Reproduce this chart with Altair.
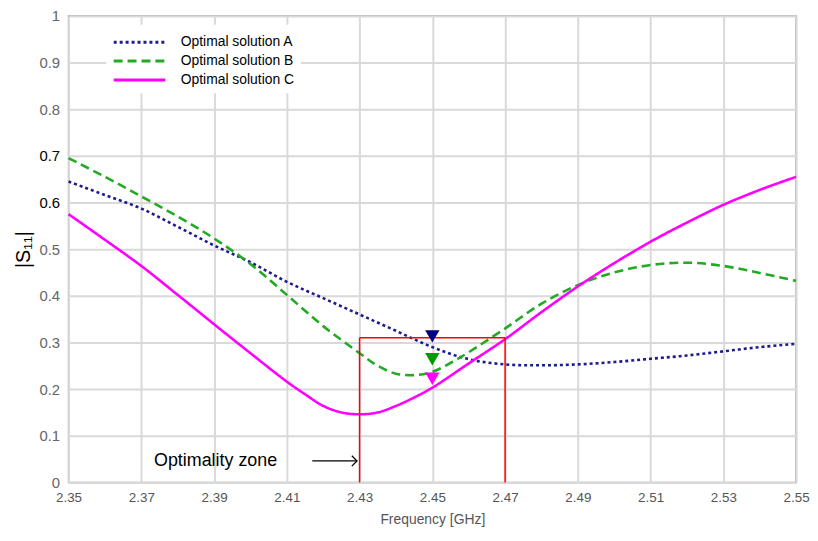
import altair as alt
import pandas as pd

# ---- data ----
freq_a = [2.35, 2.36, 2.37, 2.38, 2.39, 2.40, 2.41, 2.42, 2.43, 2.44, 2.45, 2.46, 2.47, 2.48, 2.49, 2.50, 2.51, 2.52, 2.53, 2.54, 2.55]
s11_a = [0.645, 0.616, 0.587, 0.548, 0.508, 0.472, 0.430, 0.395, 0.360, 0.325, 0.290, 0.264, 0.253, 0.251, 0.253, 0.258, 0.265, 0.272, 0.281, 0.290, 0.297]

freq_b = [2.35, 2.36, 2.37, 2.38, 2.39, 2.40, 2.41, 2.42, 2.43, 2.435, 2.44, 2.445, 2.45, 2.455, 2.46, 2.47, 2.48, 2.49, 2.50, 2.51, 2.52, 2.53, 2.54, 2.55]
s11_b = [0.695, 0.655, 0.613, 0.570, 0.523, 0.468, 0.402, 0.335, 0.277, 0.250, 0.233, 0.230, 0.237, 0.256, 0.279, 0.330, 0.383, 0.423, 0.450, 0.466, 0.471, 0.464, 0.449, 0.432]

freq_c = [2.35, 2.36, 2.37, 2.38, 2.39, 2.40, 2.41, 2.415, 2.42, 2.425, 2.43, 2.435, 2.44, 2.445, 2.45, 2.46, 2.47, 2.48, 2.49, 2.50, 2.51, 2.52, 2.53, 2.54, 2.55]
s11_c = [0.575, 0.520, 0.464, 0.402, 0.339, 0.277, 0.216, 0.189, 0.164, 0.150, 0.146, 0.150, 0.164, 0.182, 0.203, 0.255, 0.307, 0.365, 0.420, 0.470, 0.516, 0.557, 0.595, 0.627, 0.655]

series_names = ["Optimal solution A", "Optimal solution B", "Optimal solution C"]
series_colors = ["#1c1c8c", "#22aa22", "#ff00ff"]
marker_colors = ["#000080", "#009900", "#ff00ff"]
marker_freq = [2.45, 2.45, 2.45]
marker_s11 = [0.313, 0.264, 0.222]

zone_x = [2.43, 2.47]
zone_top = 0.31

x_ticks = [2.35, 2.37, 2.39, 2.41, 2.43, 2.45, 2.47, 2.49, 2.51, 2.53, 2.55]
y_ticks = [0, 0.1, 0.2, 0.3, 0.4, 0.5, 0.6, 0.7, 0.8, 0.9, 1.0]

annot_text = "Optimality zone"
annot_x = 2.3735
annot_y = 0.046
arrow_x = [2.417, 2.4293]

# ---- tables ----
rows = []
for name, fs, vs in zip(series_names, [freq_a, freq_b, freq_c], [s11_a, s11_b, s11_c]):
    for f, v in zip(fs, vs):
        rows.append({"series": name, "freq": f, "s11": v})
lines_df = pd.DataFrame(rows)
markers_df = pd.DataFrame({"series": series_names, "freq": marker_freq, "s11": marker_s11})
zone_df = pd.DataFrame({
    "x": [zone_x[0], zone_x[1], zone_x[0]],
    "x2": [zone_x[0], zone_x[1], zone_x[1]],
    "y": [0, 0, zone_top],
    "y2": [zone_top, zone_top, zone_top],
})
annot_df = pd.DataFrame({"x": [annot_x], "y": [annot_y], "t": [annot_text]})
arrow_df = pd.DataFrame({"x": [arrow_x[0]], "x2": [arrow_x[1]], "y": [annot_y]})
head_df = pd.DataFrame({"x": [arrow_x[1]], "y": [annot_y]})

FONT = "Liberation Sans"

xscale = alt.Scale(domain=[2.35, 2.55], nice=False, zero=False)
yscale = alt.Scale(domain=[0, 1], nice=False)

x_axis = alt.Axis(values=x_ticks, format=".2f", title="Frequency [GHz]",
                  labelFont=FONT, labelFontSize=13.5, labelColor="#555555",
                  titleFont=FONT, titleFontSize=14, titleColor="#555555", titleFontWeight="normal",
                  titlePadding=9, labelPadding=8, ticks=False, domain=False,
                  grid=True, gridColor="#d9d9d9", gridWidth=2, labelFlush=False)
y_axis = alt.Axis(values=y_ticks, title="|S₁₁|",
                  labelExpr="datum.value == 0 ? '0' : (datum.value == 1 ? '1' : format(datum.value, '.1f'))",
                  labelFont=FONT, labelFontSize=15,
                  labelColor={"expr": "(datum.value > 0.55 && datum.value < 0.75) ? '#000000' : '#666666'"},
                  titleFont=FONT, titleFontSize=20, titleColor="#000000", titleFontWeight="normal",
                  titlePadding=5, labelPadding=9, ticks=False, domain=False,
                  grid=True, gridColor="#d9d9d9", gridWidth=2)

color_scale = alt.Scale(domain=series_names, range=series_colors)
dash_scale = alt.Scale(domain=series_names, range=[[3, 3], [9, 5], [1, 0]])

legend = alt.Legend(title=None, orient="none", legendX=38, legendY=9,
                    symbolType="M-1,0L4.2,0", symbolSize=400, symbolStrokeWidth=3,
                    labelFont=FONT, labelFontSize=14, labelColor="#000000",
                    fillColor="white", padding=6, rowPadding=0,
                    labelOffset=46, labelLimit=300)

lines = alt.Chart(lines_df).mark_line(strokeWidth=2.6, interpolate="catmull-rom").encode(
    x=alt.X("freq:Q", scale=xscale, axis=x_axis),
    y=alt.Y("s11:Q", scale=yscale, axis=y_axis),
    color=alt.Color("series:N", scale=color_scale, legend=legend),
    strokeDash=alt.StrokeDash("series:N", scale=dash_scale, legend=legend),
    order=alt.Order("freq:Q"),
)

markers = alt.Chart(markers_df).mark_point(shape="triangle-down", filled=True, size=210, opacity=1).encode(
    x=alt.X("freq:Q", scale=xscale),
    y=alt.Y("s11:Q", scale=yscale),
    fill=alt.Fill("series:N", scale=alt.Scale(domain=series_names, range=marker_colors), legend=None),
)

zone = alt.Chart(zone_df).mark_rule(color="#ff0000", strokeWidth=1.5).encode(
    x=alt.X("x:Q", scale=xscale), x2="x2:Q",
    y=alt.Y("y:Q", scale=yscale), y2="y2:Q",
)

annot = alt.Chart(annot_df).mark_text(align="left", baseline="middle", font=FONT, fontSize=18, color="#000000").encode(
    x=alt.X("x:Q", scale=xscale), y=alt.Y("y:Q", scale=yscale), text="t:N",
)

arrow = alt.Chart(arrow_df).mark_rule(color="#000000", strokeWidth=1.3).encode(
    x=alt.X("x:Q", scale=xscale), x2="x2:Q", y=alt.Y("y:Q", scale=yscale),
)

head = alt.Chart(head_df).mark_point(shape="M-1,-1L0,0L-1,1", filled=False, size=110,
                                     color="#000000", strokeWidth=1.3, opacity=1).encode(
    x=alt.X("x:Q", scale=xscale), y=alt.Y("y:Q", scale=yscale),
)

chart = alt.layer(lines, zone, markers, arrow, head, annot).properties(
    width=733, height=470,
    autosize=alt.AutoSizeParams(type="none"),
    padding={"left": 61, "top": 6, "right": 14, "bottom": 47},
    background="white",
).configure_view(stroke="#999999", strokeWidth=1.5, fill="white")

chart.save("out.html", embed_options={"renderer": "svg", "actions": False})
